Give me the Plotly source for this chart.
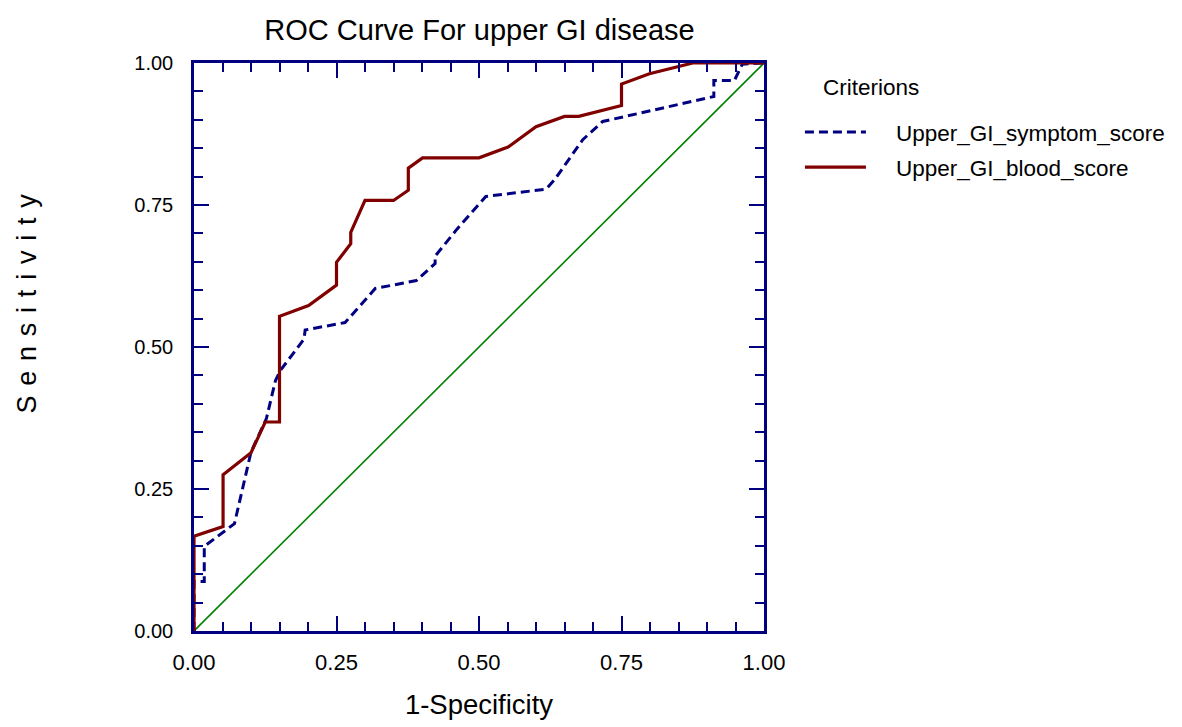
import plotly.graph_objects as go

# ---- data ----
blood_fpr = [0.0, 0.0, 0.051, 0.051, 0.100, 0.125, 0.150, 0.150, 0.201, 0.250, 0.250,
             0.275, 0.275, 0.300, 0.350, 0.376, 0.376, 0.401, 0.500, 0.551, 0.600,
             0.650, 0.675, 0.750, 0.750, 0.799, 0.875, 1.0]
blood_tpr = [0.0, 0.167, 0.184, 0.275, 0.314, 0.368, 0.368, 0.554, 0.573, 0.609, 0.649,
             0.682, 0.702, 0.758, 0.758, 0.776, 0.815, 0.833, 0.833, 0.852, 0.888,
             0.906, 0.906, 0.925, 0.963, 0.981, 1.0, 1.0]

symptom_fpr = [0.0, 0.0, 0.018, 0.018, 0.071, 0.100, 0.127, 0.143, 0.151, 0.193, 0.195,
               0.265, 0.318, 0.390, 0.423, 0.423, 0.461, 0.512, 0.618, 0.633, 0.682,
               0.717, 0.912, 0.912, 0.948, 0.962, 1.0]
symptom_tpr = [0.0, 0.087, 0.087, 0.149, 0.189, 0.315, 0.374, 0.441, 0.458, 0.514, 0.530,
               0.543, 0.603, 0.617, 0.647, 0.660, 0.707, 0.765, 0.778, 0.795, 0.865,
               0.897, 0.941, 0.969, 0.969, 0.998, 1.0]

ref_x = [0.0, 1.0]
ref_y = [0.0, 1.0]

tick_vals = [0.0, 0.25, 0.5, 0.75, 1.0]
tick_text = ["0.00", "0.25", "0.50", "0.75", "1.00"]

NAVY = "#000080"
MAROON = "#800000"
GREEN = "#008000"
FONT = "Liberation Sans, Arial"
NB = "\u00a0"

fig = go.Figure()
fig.add_trace(go.Scatter(x=ref_x, y=ref_y, mode="lines", line=dict(color=GREEN, width=1.6),
                         showlegend=False, hoverinfo="skip"))
fig.add_trace(go.Scatter(x=symptom_fpr, y=symptom_tpr, mode="lines",
                         name=NB * 4 + "Upper_GI_symptom_score", legendgroup="a",
                         line=dict(color=NAVY, width=3, dash="9px,5px")))
fig.add_trace(go.Scatter(x=blood_fpr, y=blood_tpr, mode="lines",
                         name=NB * 4 + "Upper_GI_blood_score", legendgroup="b",
                         line=dict(color=MAROON, width=3.2)))

axis_common = dict(
    range=[0, 1], tickvals=tick_vals, ticktext=tick_text,
    showgrid=False, zeroline=False,
    showline=True, linecolor=NAVY, linewidth=2.5, mirror="ticks",
    ticks="inside", ticklen=15, tickwidth=2, tickcolor=NAVY,
    minor=dict(dtick=0.05, ticks="inside", ticklen=9, tickwidth=2, tickcolor=NAVY, showgrid=False),
)

fig.update_layout(
    width=1182, height=727,
    margin=dict(l=194, r=417, t=63, b=94),
    paper_bgcolor="white", plot_bgcolor="white",
    title=dict(text="ROC Curve For upper GI disease", x=479.5 / 1182, xanchor="center",
               y=1 - 30 / 727, yanchor="middle",
               font=dict(family=FONT, size=29, color="black")),
    xaxis=dict(**axis_common,
               tickfont=dict(family=FONT, size=22, color="black"),
               ticklabelstandoff=10,
               title=dict(text="1-Specificity", font=dict(family=FONT, size=27.5, color="black"),
                          standoff=21)),
    yaxis=dict(**axis_common,
               tickfont=dict(family=FONT, size=20, color="black"),
               ticklabelstandoff=14),
    legend=dict(x=(801 - 194) / 571, xanchor="left", y=(633 - 111) / 570, yanchor="top",
                xref="paper", yref="paper",
                font=dict(family=FONT, size=22.5, color="black"),
                bgcolor="rgba(0,0,0,0)", itemwidth=61, tracegroupgap=3),
    showlegend=True,
    annotations=[
        dict(text="Criterions", xref="paper", yref="paper",
             x=(822 - 194) / 571, xanchor="left", y=(633 - 88) / 570, yanchor="middle",
             showarrow=False, font=dict(family=FONT, size=22.5, color="black")),
        dict(text=" \u200a".join("Sensitivity"), xref="paper", yref="paper",
             x=(27 - 194) / 571, xanchor="center", y=(633 - 304) / 570, yanchor="middle",
             textangle=-90, showarrow=False, font=dict(family=FONT, size=27, color="black")),
    ],
)

fig.write_html("out.html")
